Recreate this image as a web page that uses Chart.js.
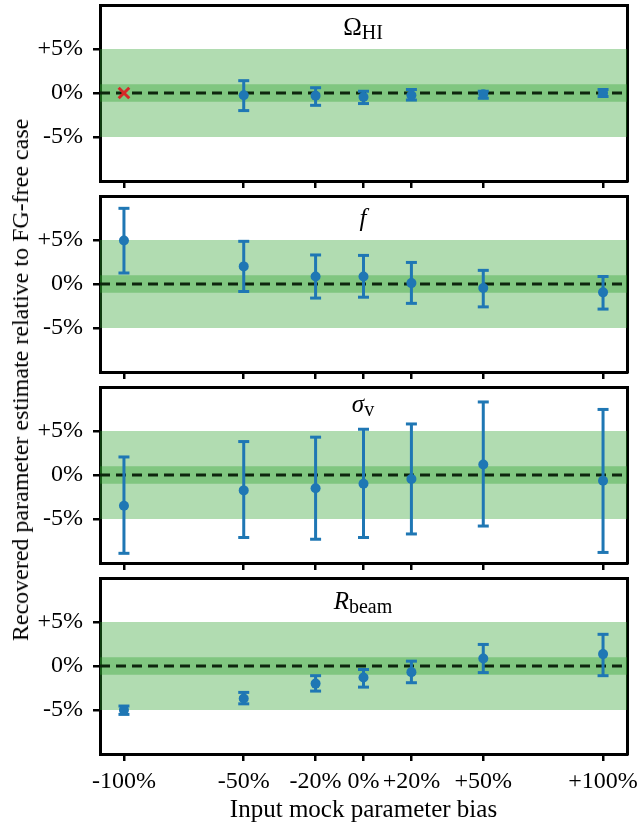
<!DOCTYPE html>
<html>
<head>
<meta charset="utf-8">
<script src="https://cdn.jsdelivr.net/npm/chart.js@4.4.1/dist/chart.umd.min.js"></script>
<style>
    body { margin: 0; background: #fff; }
    #wrap { position: relative; width: 641px; height: 826px; font-family: "Liberation Serif", serif; color: #000; }
    canvas { position: absolute; left: 0; }
    .lbl { position: absolute; left: 363px; transform: translateX(-50%); font-size: 25px; line-height: 1; white-space: nowrap; }
    .lbl sub { font-size: 20px; vertical-align: baseline; position: relative; top: 3.5px; font-style: normal; }
    #ytitle { position: absolute; left: 20px; top: 380px; transform: translate(-50%, -50%) rotate(-90deg); font-size: 24px; white-space: nowrap; line-height: 1; }
</style>
</head>
<body>
<div id="wrap">
    <canvas id="p0" width="641" height="191" style="top:0px"></canvas>
    <canvas id="p1" width="641" height="191" style="top:191px"></canvas>
    <canvas id="p2" width="641" height="191" style="top:382px"></canvas>
    <canvas id="p3" width="641" height="253" style="top:573px"></canvas>
    <div class="lbl" style="top:14px">Ω<sub>HI</sub></div>
    <div class="lbl" style="top:205px"><i>f</i></div>
    <div class="lbl" style="top:391px"><i>σ</i><sub>v</sub></div>
    <div class="lbl" style="top:588px"><i>R</i><sub>beam</sub></div>
    <div id="ytitle">Recovered parameter estimate relative to FG-free case</div>
</div>
<script>
// input bias (%) for each run
const biasValues = [-100, -50, -20, 0, 20, 50, 100];
const yTickValues = [-5, 0, 5];

// Omega_HI: the -100% run failed (red cross)
const omegaX = [-50, -20, 0, 20, 50, 100];
const omegaMid = [-0.25, -0.3, -0.45, -0.25, -0.15, 0.0];
const omegaLow = [-2.0, -1.4, -1.2, -0.8, -0.6, -0.4];
const omegaHigh = [1.4, 0.6, 0.2, 0.4, 0.2, 0.4];
const omegaFailX = [-100];
const omegaFailY = [0];

const fMid = [4.95, 2.0, 0.85, 0.85, 0.1, -0.45, -0.95];
const fLow = [1.25, -0.85, -1.6, -1.5, -2.2, -2.6, -2.85];
const fHigh = [8.6, 4.85, 3.3, 3.25, 2.45, 1.55, 0.85];

const sigmaMid = [-3.5, -1.75, -1.5, -1.0, -0.45, 1.2, -0.65];
const sigmaLow = [-8.9, -7.1, -7.3, -7.1, -6.7, -5.8, -8.8];
const sigmaHigh = [2.05, 3.8, 4.3, 5.2, 5.8, 8.3, 7.45];

const rbeamMid = [-5.0, -3.7, -2.0, -1.3, -0.7, 0.85, 1.35];
const rbeamLow = [-5.5, -4.3, -2.85, -2.4, -1.9, -0.75, -1.1];
const rbeamHigh = [-4.55, -3.0, -1.1, -0.4, 0.55, 2.45, 3.6];

// tolerance bands
const outerBand = 5;
const innerBand = 1;

const X_MIN = -110, X_MAX = 110;
const blue = "#1f77b4";
const bandColor = "rgba(44,160,44,0.37)";

Chart.defaults.font.family = "'Liberation Serif', serif";
Chart.defaults.color = "#000";

function pct(v) {
    return (v > 0 ? "+" : "") + v + "%";
}

// no extra room for labels sticking out past the plot box
function noPad(s) {
    s.paddingTop = 0;
    s.paddingBottom = 0;
    s.paddingLeft = 0;
    s.paddingRight = 0;
}

function bandDataset(level) {
    return {
        type: "line",
        data: [{x: X_MIN, y: level}, {x: X_MAX, y: level}],
        borderColor: "transparent",
        backgroundColor: bandColor,
        pointRadius: 0,
        fill: {value: -level},
        order: 10
    };
}

function zeroLine() {
    return {
        type: "line",
        data: [{x: X_MIN, y: 0}, {x: X_MAX, y: 0}],
        borderColor: "#0d260d",
        borderWidth: 3,
        borderDash: [10, 6],
        pointRadius: 0,
        fill: false,
        order: 5
    };
}

function errorDatasets(xs, mid, low, high) {
    let stems = [], caps = [], pts = [];
    xs.forEach((x, i) => {
        stems.push({x: x, y: low[i]}, {x: x, y: high[i]}, {x: x, y: null});
        caps.push({x: x, y: low[i]}, {x: x, y: high[i]});
        pts.push({x: x, y: mid[i]});
    });
    return [
        { type: "line", data: stems, borderColor: blue, borderWidth: 3, pointRadius: 0, spanGaps: false, fill: false, order: 3 },
        { type: "scatter", data: caps, pointStyle: "line", pointRadius: 5.5, borderColor: blue, borderWidth: 3, order: 2 },
        { type: "scatter", data: pts, pointRadius: 5, backgroundColor: blue, borderColor: blue, borderWidth: 0, order: 1 }
    ];
}

function makeScales(bottom) {
    return {
        x: {
            type: "linear", min: X_MIN, max: X_MAX,
            afterBuildTicks: s => { s.ticks = biasValues.map(v => ({value: v})); },
            afterFit: s => { s.height = bottom ? 72 : 10; noPad(s); },
            grid: { drawOnChartArea: false, drawTicks: true, tickLength: 7, color: "#000", lineWidth: 2.5 },
            border: { color: "#000", width: 3 },
            ticks: { display: bottom, font: {size: 24}, padding: 6, maxRotation: 0, autoSkip: false, callback: pct },
            title: { display: bottom, text: "Input mock parameter bias", font: {size: 25}, padding: {top: 0, bottom: 1} }
        },
        xTop: {
            type: "linear", position: "top", min: X_MIN, max: X_MAX,
            afterFit: s => { s.height = 5; noPad(s); },
            grid: { display: false },
            ticks: { display: false },
            border: { color: "#000", width: 3 }
        },
        y: {
            type: "linear", min: -10, max: 10,
            afterBuildTicks: s => { s.ticks = yTickValues.map(v => ({value: v})); },
            afterFit: s => { s.width = 100; noPad(s); },
            grid: { drawOnChartArea: false, drawTicks: true, tickLength: 7, color: "#000", lineWidth: 2.5 },
            border: { color: "#000", width: 3 },
            ticks: { font: {size: 24}, padding: 10, callback: pct }
        },
        yRight: {
            type: "linear", position: "right", min: -10, max: 10,
            afterFit: s => { s.width = 14; noPad(s); },
            grid: { display: false },
            ticks: { display: false },
            border: { color: "#000", width: 3 }
        }
    };
}

function drawPanel(id, datasets, bottom) {
    let ctx = document.getElementById(id).getContext("2d");
    new Chart(ctx, {
        type: "scatter",
        data: { datasets: [bandDataset(outerBand), bandDataset(innerBand), zeroLine()].concat(datasets) },
        options: {
            responsive: false,
            animation: false,
            layout: { padding: 0, autoPadding: false },
            plugins: { legend: { display: false }, tooltip: { enabled: false } },
            scales: makeScales(bottom)
        }
    });
}

let failed = {
    type: "scatter",
    data: omegaFailX.map((x, i) => ({x: x, y: omegaFailY[i]})),
    pointStyle: "crossRot", pointRadius: 7.5, borderColor: "#d62728", borderWidth: 3, order: 1
};

drawPanel("p0", errorDatasets(omegaX, omegaMid, omegaLow, omegaHigh).concat([failed]), false);
drawPanel("p1", errorDatasets(biasValues, fMid, fLow, fHigh), false);
drawPanel("p2", errorDatasets(biasValues, sigmaMid, sigmaLow, sigmaHigh), false);
drawPanel("p3", errorDatasets(biasValues, rbeamMid, rbeamLow, rbeamHigh), true);
</script>
</body>
</html>
